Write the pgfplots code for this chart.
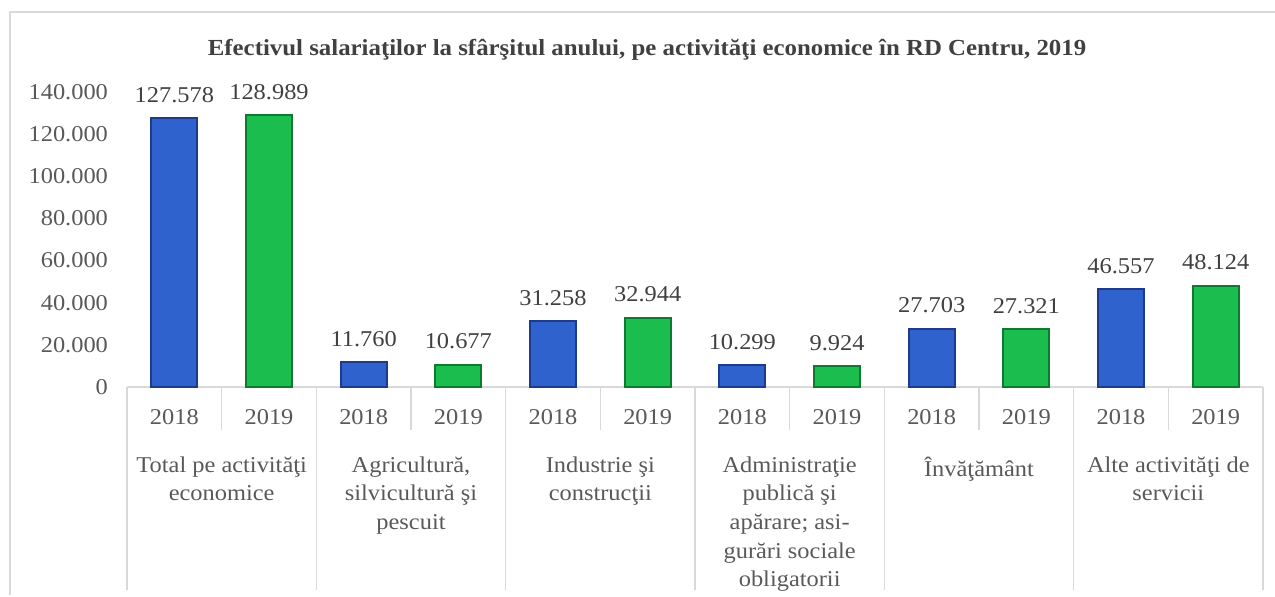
\documentclass[border=0pt]{standalone}
\usepackage{fontspec}
\setmainfont{Liberation Serif}[FakeStretch=1.08]
\usepackage{pgfplots}
\pgfplotsset{compat=1.18}

\definecolor{txtgray}{HTML}{595959}
\definecolor{lblgray}{HTML}{404040}
\definecolor{sepgray}{HTML}{D9D9D9}
\definecolor{blueEdge}{HTML}{1E3A8A}
\definecolor{blueMid}{HTML}{2F62CC}
\definecolor{greenEdge}{HTML}{0E7A30}
\definecolor{greenMid}{HTML}{1ABD4E}

\begin{document}
\begin{tikzpicture}[font=\fontsize{11.3}{14.3}\selectfont]
\begin{axis}[
  scale only axis,
  width=568pt, height=147.5pt,
  at={(63.5pt,104.5pt)}, anchor=south west,
  xmin=-0.5, xmax=11.5,
  ymin=0, ymax=140000,
  ybar, bar width=23pt, bar shift=0pt,
  axis x line*=bottom, axis y line*=left,
  x axis line style={draw=sepgray, line width=0.8pt, -},
  y axis line style={draw=none},
  xtick={0,...,11},
  xticklabels={2018,2019,2018,2019,2018,2019,2018,2019,2018,2019,2018,2019},
  xtick style={draw=none},
  xticklabel style={anchor=north, yshift=-3.5pt, text=txtgray},
  extra x ticks={0.5,2.5,4.5,6.5,8.5,10.5},
  extra x tick labels={
    {Total pe activităţi\\economice},
    {Agricultură,\\silvicultură şi\\pescuit},
    {Industrie şi\\construcţii},
    {Administraţie\\publică şi\\apărare; asi-\\gurări sociale\\obligatorii},
    {Învăţământ},
    {Alte activităţi de\\servicii}},
  extra x tick style={
    xtick style={draw=none},
    grid=none,
    xticklabel style={anchor=north, yshift=-23.5pt, align=center}},
  ytick={0,20000,...,140000},
  scaled y ticks=false,
  ytick style={draw=none},
  yticklabel style={text=txtgray, xshift=-6pt},
  /pgf/number format/.cd, fixed, precision=0, 1000 sep={.}, assume math mode=true,
  /pgfplots/.cd,
  nodes near coords,
  nodes near coords style={anchor=center, yshift=11.5pt, text=lblgray},
  clip=false,
]
\addplot[draw=blueEdge, line width=1pt, fill=blueMid]
  coordinates {(0,127578) (2,11760) (4,31258) (6,10299) (8,27703) (10,46557)};
\addplot[draw=greenEdge, line width=1pt, fill=greenMid]
  coordinates {(1,128989) (3,10677) (5,32944) (7,9924) (9,27321) (11,48124)};
% category separators
\pgfplotsinvokeforeach{-0.5,1.5,3.5,5.5,7.5,9.5,11.5}{
  \draw[sepgray, line width=0.8pt] (axis cs:#1,0) -- ++(0pt,-101.5pt);
}
\pgfplotsinvokeforeach{0.5,2.5,4.5,6.5,8.5,10.5}{
  \draw[sepgray, line width=0.8pt] (axis cs:#1,0) -- ++(0pt,-21.5pt);
}
\end{axis}
% outer chart frame
\draw[sepgray, line width=1pt] (5pt,0.5pt) -- (5pt,292pt) -- (645pt,292pt);
\node[font=\fontsize{11.5}{14.3}\selectfont\bfseries, text=lblgray] at (323.5pt,273pt)
  {Efectivul salariaţilor la sfârşitul anului, pe activităţi economice în RD Centru, 2019};
\pgfresetboundingbox
\path (0,0) rectangle (637.5pt,298pt);
\end{tikzpicture}
\end{document}
